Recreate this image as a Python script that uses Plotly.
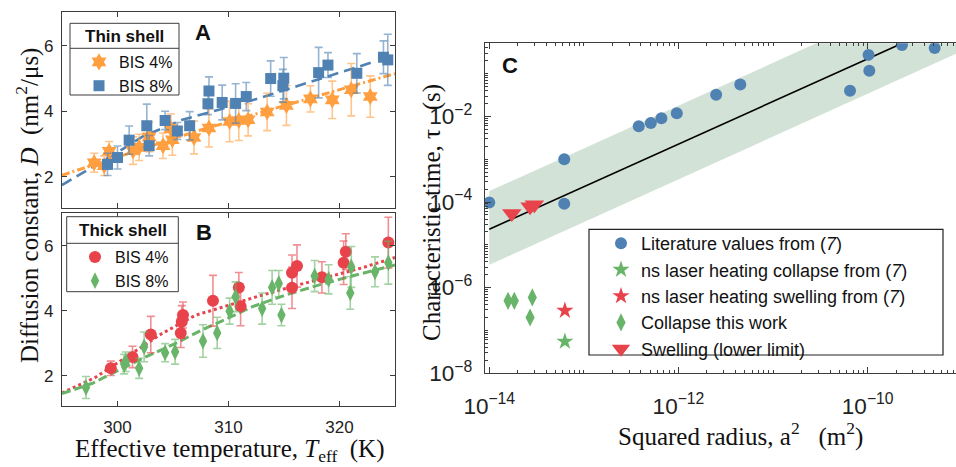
import plotly.graph_objects as go

W, H = 956, 467

# ---------------- Panel A : thin shell ----------------
a4_T = [297.9, 298.8, 299.25, 301.4, 301.95, 302.85, 304.1, 304.8, 304.94, 306.89, 308.24,
        310.10, 310.93, 311.77, 313.48, 315.22, 317.38, 319.35, 321.06, 322.77]
a4_D = [2.43, 2.34, 2.78, 2.80, 2.90, 3.22, 2.95, 3.47, 3.13, 3.20, 3.49,
        3.69, 3.72, 3.74, 3.98, 4.18, 4.38, 4.35, 4.66, 4.45]
a4_err = [0.29, 0.30, 0.30, 0.42, 0.40, 0.45, 0.39, 0.45, 0.47, 0.50, 0.58,
          0.62, 0.61, 0.49, 0.57, 0.61, 0.40, 0.57, 0.80, 0.63]

a8_T = [299.1, 300.0, 301.05, 302.64, 302.85, 304.29, 305.39, 306.5, 308.15, 308.24, 309.43,
        310.64, 311.6, 313.8, 314.98, 314.9, 318.12, 318.96, 321.56, 323.96, 324.35]
a8_D = [2.38, 2.59, 3.12, 3.56, 2.95, 3.72, 3.40, 3.56, 4.23, 4.62, 4.27,
        4.24, 4.45, 5.00, 5.01, 4.78, 5.18, 5.41, 5.16, 5.65, 5.57]
a8_err = [0.34, 0.35, 0.43, 0.66, 0.31, 0.28, 0.26, 0.43, 0.33, 0.43, 0.53,
          0.60, 0.43, 0.54, 0.63, 0.50, 0.77, 0.38, 0.60, 0.50, 0.78]

fitA4_T = [295.0, 307.0, 315.0, 325.0]
fitA4_D = [2.05, 3.38, 4.17, 5.15]
fitA8_T = [295.0, 300.15, 302.25, 305.84, 309.14, 312.28, 323.0]
fitA8_D = [1.75, 2.78, 3.23, 3.74, 4.05, 4.35, 5.50]

# ---------------- Panel B : thick shell ----------------
b4_T = [299.4, 301.35, 303.0, 305.7, 305.79, 305.9, 308.6, 310.93, 311.09, 315.72, 315.72,
        316.17, 318.42, 320.37, 320.57, 324.4]
b4_D = [2.23, 2.58, 3.27, 3.32, 3.66, 3.87, 4.31, 4.72, 4.14, 4.71, 5.17,
        5.38, 5.03, 5.48, 5.82, 6.10]
b4_err = [0.22, 0.33, 0.56, 0.45, 0.50, 0.40, 0.78, 0.46, 0.60, 0.64, 0.55,
          0.65, 0.48, 0.67, 0.55, 0.78]

b8_T = [297.16, 300.6, 300.75, 301.95, 302.4, 304.29, 305.19, 307.7, 308.98, 310.1, 310.64,
        313.03, 313.93, 314.53, 314.77, 317.76, 319.02, 320.97, 321.06, 323.2, 324.4]
b8_D = [1.64, 2.36, 2.43, 2.23, 2.89, 2.71, 2.74, 3.07, 3.32, 3.99, 4.43,
        4.07, 4.72, 4.84, 3.87, 5.07, 4.97, 4.55, 5.35, 5.20, 5.48]
b8_err = [0.34, 0.30, 0.30, 0.31, 0.46, 0.28, 0.38, 0.50, 0.48, 0.40, 0.46,
          0.48, 0.52, 0.40, 0.33, 0.48, 0.45, 0.50, 0.63, 0.46, 0.66]

fitB4_T = [295.0, 298.0, 301.0, 304.0, 307.0, 310.0, 313.0, 316.0, 319.0, 322.0, 325.0]
fitB4_D = [1.47, 1.95, 2.62, 3.30, 3.86, 4.18, 4.48, 4.77, 5.04, 5.32, 5.64]
fitB8_T = [295.0, 297.75, 300.15, 302.55, 305.25, 307.6, 310.0, 312.1, 315.1, 318.1, 321.1, 325.0]
fitB8_D = [1.45, 1.77, 2.18, 2.58, 3.00, 3.41, 3.78, 4.12, 4.48, 4.79, 5.07, 5.41]

# ---------------- Panel C ----------------
lit_a2 = [1.0e-14, 6.2e-14, 6.2e-14, 3.8e-13, 5.1e-13, 6.6e-13, 9.6e-13, 2.5e-12, 4.5e-12,
          6.5e-11, 1.02e-10, 1.04e-10, 2.3e-10, 5.1e-10]
lit_tau = [9.7e-5, 1.0e-3, 9.1e-5, 5.9e-3, 7.0e-3, 9.1e-3, 1.19e-2, 3.2e-2, 5.6e-2,
           4.0e-2, 0.275, 0.117, 0.47, 0.40]
nsc_a2 = [6.3e-14]
nsc_tau = [5.5e-8]
nss_a2 = [6.3e-14]
nss_tau = [2.9e-7]
col_a2 = [1.58e-14, 1.84e-14, 2.85e-14, 2.7e-14]
col_tau = [4.9e-7, 4.9e-7, 5.9e-7, 2.0e-7]
swl_a2 = [1.73e-14, 2.7e-14, 3.0e-14]
swl_tau = [5.4e-5, 7.8e-5, 8.6e-5]
line_a2 = [1.0e-14, 2.2e-10]
line_tau = [2.3e-5, 0.49]
band_a2 = [1.0e-14, 1.0e-9]
band_lo = [3.4e-6, 0.34]
band_hi = [1.8e-4, 18.0]

ORANGE = '#ff9f40'
BLUE = '#4f82b3'
RED = '#e8434b'
GREEN = '#68b468'

SANS = 'Liberation Sans, Arial, sans-serif'
SERIF = 'Liberation Serif, Times New Roman, serif'

fig = go.Figure()

def errdict(arr, col):
    return dict(type='data', array=arr, color=col, thickness=1.6, width=4)

# A fits
fig.add_trace(go.Scatter(x=fitA4_T, y=fitA4_D, mode='lines', xaxis='x', yaxis='y', showlegend=False,
                         line=dict(color=ORANGE, width=3, dash='8px,3px,2px,3px'), hoverinfo='skip'))
fig.add_trace(go.Scatter(x=fitA8_T, y=fitA8_D, mode='lines', xaxis='x', yaxis='y', showlegend=False,
                         line=dict(color=BLUE, width=2.6, dash='11px,6px'), hoverinfo='skip'))
fig.add_trace(go.Scatter(x=a4_T, y=a4_D, mode='markers', name='BIS 4%', legend='legend',
                         xaxis='x', yaxis='y', error_y=errdict(a4_err, 'rgba(255,159,64,0.6)'),
                         marker=dict(symbol='hexagram', size=13, color=ORANGE)))
fig.add_trace(go.Scatter(x=a8_T, y=a8_D, mode='markers', name='BIS 8%', legend='legend',
                         xaxis='x', yaxis='y', error_y=errdict(a8_err, 'rgba(79,130,179,0.6)'),
                         marker=dict(symbol='square', size=11, color=BLUE)))

# B fits
fig.add_trace(go.Scatter(x=fitB4_T, y=fitB4_D, mode='lines', xaxis='x2', yaxis='y2', showlegend=False,
                         line=dict(color=RED, width=3, dash='dot'), hoverinfo='skip'))
fig.add_trace(go.Scatter(x=fitB8_T, y=fitB8_D, mode='lines', xaxis='x2', yaxis='y2', showlegend=False,
                         line=dict(color=GREEN, width=3, dash='9px,4px'), hoverinfo='skip'))
fig.add_trace(go.Scatter(x=b4_T, y=b4_D, mode='markers', name='BIS 4%', legend='legend2',
                         xaxis='x2', yaxis='y2', error_y=errdict(b4_err, 'rgba(232,67,75,0.6)'),
                         marker=dict(symbol='circle', size=12, color=RED)))
fig.add_trace(go.Scatter(x=b8_T, y=b8_D, mode='markers', name='BIS 8%', legend='legend2',
                         xaxis='x2', yaxis='y2', error_y=errdict(b8_err, 'rgba(104,180,104,0.6)'),
                         marker=dict(symbol='diamond-tall', size=12, color=GREEN)))

# C band + line
fig.add_trace(go.Scatter(x=band_a2, y=band_lo, mode='lines', xaxis='x3', yaxis='y3', showlegend=False,
                         line=dict(width=0, color='rgba(0,0,0,0)'), hoverinfo='skip'))
fig.add_trace(go.Scatter(x=band_a2, y=band_hi, mode='lines', xaxis='x3', yaxis='y3', showlegend=False,
                         fill='tonexty', fillcolor='#d2e2d6', line=dict(width=0, color='rgba(0,0,0,0)'),
                         hoverinfo='skip'))
fig.add_trace(go.Scatter(x=line_a2, y=line_tau, mode='lines', xaxis='x3', yaxis='y3', showlegend=False,
                         line=dict(color='black', width=1.6), hoverinfo='skip'))
fig.add_trace(go.Scatter(x=lit_a2, y=lit_tau, mode='markers', name='Literature values from (<i>7</i>)',
                         legend='legend3', xaxis='x3', yaxis='y3',
                         marker=dict(symbol='circle', size=12, color=BLUE)))
fig.add_trace(go.Scatter(x=nsc_a2, y=nsc_tau, mode='markers', name='ns laser heating collapse from (<i>7</i>)',
                         legend='legend3', xaxis='x3', yaxis='y3',
                         marker=dict(symbol='star', size=13, color=GREEN)))
fig.add_trace(go.Scatter(x=nss_a2, y=nss_tau, mode='markers', name='ns laser heating swelling from (<i>7</i>)',
                         legend='legend3', xaxis='x3', yaxis='y3',
                         marker=dict(symbol='star', size=13, color=RED)))
fig.add_trace(go.Scatter(x=col_a2, y=col_tau, mode='markers', name='Collapse this work',
                         legend='legend3', xaxis='x3', yaxis='y3',
                         marker=dict(symbol='diamond-tall', size=13, color=GREEN)))
fig.add_trace(go.Scatter(x=swl_a2, y=swl_tau, mode='markers', name='Swelling (lower limit)',
                         legend='legend3', xaxis='x3', yaxis='y3',
                         marker=dict(symbol='triangle-down', size=17, color=RED)))

AX = '#3c3c3c'
tickfont = dict(family=SANS, size=17, color='#222')

def px_x(p):
    return p / W

def px_y(p):
    return 1 - p / H

lin_common = dict(showline=True, linecolor=AX, linewidth=1.3, mirror='ticks', ticks='inside',
                  ticklen=5, tickwidth=1.2, tickcolor=AX, showgrid=False, zeroline=False,
                  tickfont=tickfont)

legfont = dict(family=SANS, size=16, color='#111')

fig.update_layout(
    width=W, height=H, margin=dict(l=0, r=0, t=0, b=0, autoexpand=False),
    paper_bgcolor='white', plot_bgcolor='white',
    xaxis=dict(domain=[px_x(62), px_x(395)], anchor='y', range=[295, 325], tickvals=[300, 310, 320],
               showticklabels=False, **lin_common),
    yaxis=dict(domain=[px_y(208), px_y(12)], anchor='x', range=[1.05, 7.03], tickvals=[2, 4, 6],
               ticklabelstandoff=4, **lin_common),
    xaxis2=dict(domain=[px_x(62), px_x(395)], anchor='y2', range=[295, 325], tickvals=[300, 310, 320],
                ticklabelstandoff=5, **lin_common),
    yaxis2=dict(domain=[px_y(406), px_y(212.7)], anchor='x2', range=[1.07, 7.02], tickvals=[2, 4, 6],
                ticklabelstandoff=4, **lin_common),
    xaxis3=dict(domain=[px_x(485), 1.0], anchor='y3', type='log', range=[-14.045, -9.067],
                tickmode='linear', tick0=-14, dtick=2, exponentformat='power',
                showline=True, linecolor=AX, linewidth=1.3, mirror='ticks', ticks='inside',
                ticklen=6, tickwidth=1.2, tickcolor=AX, showgrid=False, zeroline=False,
                tickfont=dict(family=SANS, size=18, color='#222'), ticklabelstandoff=13,
                minor=dict(ticks='inside', ticklen=3, tickcolor=AX, dtick='D1', showgrid=False)),
    yaxis3=dict(domain=[px_y(373.3), px_y(43.3)], anchor='x3', type='log', range=[-8.003, -0.29],
                tickmode='linear', tick0=-8, dtick=2, exponentformat='power',
                showline=True, linecolor=AX, linewidth=1.3, mirror=False, ticks='inside',
                ticklen=6, tickwidth=1.2, tickcolor=AX, showgrid=False, zeroline=False,
                tickfont=dict(family=SANS, size=18, color='#222'), ticklabelstandoff=8,
                minor=dict(ticks='inside', ticklen=3, tickcolor=AX, dtick='D1', showgrid=False)),
    legend=dict(x=px_x(79), y=px_y(45), xanchor='left', yanchor='top', bgcolor='rgba(0,0,0,0)',
                borderwidth=0, font=legfont, tracegroupgap=0, traceorder='normal'),
    legend2=dict(x=px_x(75), y=px_y(240), xanchor='left', yanchor='top', bgcolor='rgba(0,0,0,0)',
                 borderwidth=0, font=legfont, tracegroupgap=0, traceorder='normal'),
    legend3=dict(x=px_x(601), y=px_y(225), xanchor='left', yanchor='top', bgcolor='rgba(0,0,0,0)',
                 borderwidth=0, font=dict(family=SANS, size=18, color='#111'), tracegroupgap=0,
                 traceorder='normal'),
)

shapes = [
    dict(type='rect', xref='paper', yref='paper', x0=px_x(70), x1=px_x(179), y0=px_y(95), y1=px_y(23.3),
         line=dict(color=AX, width=1), fillcolor='white', layer='above'),
    dict(type='line', xref='paper', yref='paper', x0=px_x(70), x1=px_x(179), y0=px_y(48.3), y1=px_y(48.3),
         line=dict(color=AX, width=1), layer='above'),
    dict(type='rect', xref='paper', yref='paper', x0=px_x(66.7), x1=px_x(178.3), y0=px_y(291.7), y1=px_y(216.7),
         line=dict(color=AX, width=1), fillcolor='white', layer='above'),
    dict(type='line', xref='paper', yref='paper', x0=px_x(66.7), x1=px_x(178.3), y0=px_y(243.3), y1=px_y(243.3),
         line=dict(color=AX, width=1), layer='above'),
    dict(type='rect', xref='paper', yref='paper', x0=px_x(589), x1=px_x(943), y0=px_y(355), y1=px_y(229.3),
         line=dict(color='#222', width=1.2), fillcolor='white', layer='above'),
]
fig.update_layout(shapes=shapes)

NB = '\u00a0'
ann = [
    dict(text='<b>Thin shell</b>', x=px_x(124.5), y=px_y(36), font=dict(family=SANS, size=17, color='#111')),
    dict(text='<b>Thick shell</b>', x=px_x(122.5), y=px_y(230.5), font=dict(family=SANS, size=17, color='#111')),
    dict(text='<b>A</b>', x=px_x(203), y=px_y(33), font=dict(family=SANS, size=22, color='#111')),
    dict(text='<b>B</b>', x=px_x(204), y=px_y(232), font=dict(family=SANS, size=22, color='#111')),
    dict(text='<b>C</b>', x=px_x(510), y=px_y(66), font=dict(family=SANS, size=22, color='#111')),
    dict(text='Diffusion constant, <i>D</i>' + NB * 2 + '(nm<sup>2</sup>/μs)', x=px_x(27), y=px_y(206),
         textangle=-90, font=dict(family=SERIF, size=25, color='#111')),
    dict(text='Effective temperature, <i>T</i><sub>eff</sub>' + NB * 2 + '(K)', x=px_x(230), y=px_y(450),
         font=dict(family=SERIF, size=25, color='#111')),
    dict(text='Squared radius, a<sup>2</sup>' + NB * 3 + '(m<sup>2</sup>)', x=px_x(740), y=px_y(434),
         font=dict(family=SERIF, size=25, color='#111')),
    dict(text='Characteristic time, τ' + NB * 3 + '(s)', x=px_x(432), y=px_y(213),
         textangle=-90, font=dict(family=SERIF, size=25, color='#111')),
]
for a in ann:
    a.update(xref='paper', yref='paper', showarrow=False, xanchor='center', yanchor='middle')
fig.update_layout(annotations=ann)

fig.write_html('out.html', config={'displayModeBar': False},
               post_script="document.body.style.margin='0px';document.body.style.overflow='hidden';")
